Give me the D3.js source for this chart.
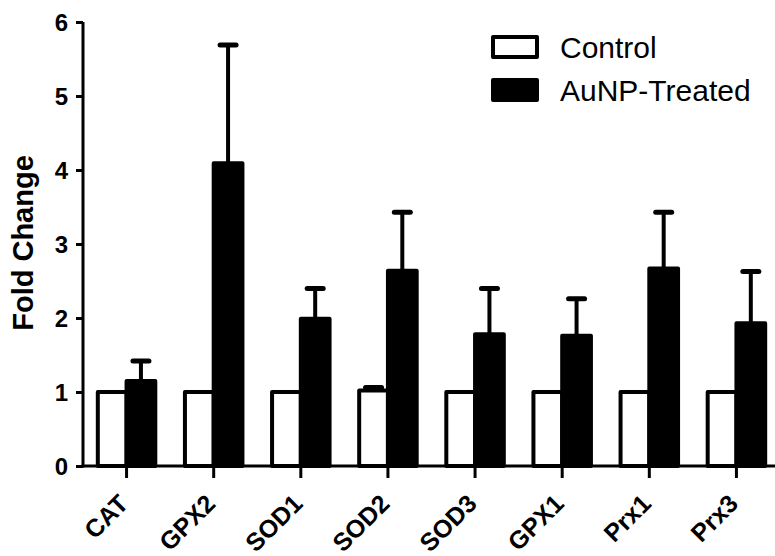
<!DOCTYPE html>
<html>
<head>
<meta charset="utf-8">
<script src="https://cdn.jsdelivr.net/npm/d3@7"></script>
<style>
  body { margin: 0; background: #fff; }
  text { font-family: "Liberation Sans", Arial, sans-serif; }
</style>
</head>
<body>
<svg width="775" height="556"></svg>
<script>
// data
var genes = ["CAT", "GPX2", "SOD1", "SOD2", "SOD3", "GPX1", "Prx1", "Prx3"];
var groups = ["Control", "AuNP-Treated"];
var controlMean = [1.0, 1.0, 1.0, 1.02, 1.0, 1.0, 1.0, 1.0];
var controlErr  = [0, 0, 0, 0.04, 0, 0, 0, 0];
var treatedMean = [1.15, 4.09, 1.99, 2.64, 1.78, 1.76, 2.67, 1.93];
var treatedErr  = [0.27, 1.6, 0.41, 0.79, 0.62, 0.5, 0.76, 0.7];
var yTicks = [0, 1, 2, 3, 4, 5, 6];

var svg = d3.select("svg"),
    width = +svg.attr("width"),
    height = +svg.attr("height");

var plotLeft = 83, plotBottom = 466, plotTop = 22;

var y = d3.scaleLinear().domain([0, 6]).range([plotBottom, plotTop]);

var x0 = d3.scaleBand()
    .domain(genes)
    .range([plotLeft, 780])
    .paddingInner(0.34)
    .paddingOuter(0.17);

var x1 = d3.scaleBand()
    .domain(groups)
    .range([0, x0.bandwidth()])
    .padding(0);

// flatten into rows for drawing
var rows = [];
genes.forEach(function(g, i) {
  rows.push({gene: g, group: groups[0], mean: controlMean[i], err: controlErr[i]});
  rows.push({gene: g, group: groups[1], mean: treatedMean[i], err: treatedErr[i]});
});

var fillFor = { "Control": "#fff", "AuNP-Treated": "#000" };

function cx(d) { return x0(d.gene) + x1(d.group) + x1.bandwidth() / 2; }

// error bars (drawn first so the bar covers the bottom)
var eb = svg.append("g").attr("class", "errs")
  .selectAll("g")
  .data(rows.filter(function(d) { return d.err > 0; }))
  .enter().append("g");

eb.append("line")
    .attr("x1", cx)
    .attr("x2", cx)
    .attr("y1", function(d) { return y(d.mean); })
    .attr("y2", function(d) { return y(d.mean + d.err); })
    .attr("stroke", "#000")
    .attr("stroke-width", 4);

eb.append("line")
    .attr("x1", function(d) { return cx(d) - 8; })
    .attr("x2", function(d) { return cx(d) + 8; })
    .attr("y1", function(d) { return y(d.mean + d.err); })
    .attr("y2", function(d) { return y(d.mean + d.err); })
    .attr("stroke", "#000")
    .attr("stroke-width", 5)
    .attr("stroke-linecap", "round");

// bars
svg.append("g").attr("class", "bars")
  .selectAll("rect")
  .data(rows)
  .enter().append("rect")
    .attr("x", function(d) { return x0(d.gene) + x1(d.group); })
    .attr("y", function(d) { return y(d.mean); })
    .attr("width", x1.bandwidth())
    .attr("height", function(d) { return plotBottom - y(d.mean); })
    .attr("fill", function(d) { return fillFor[d.group]; })
    .attr("stroke", "#000")
    .attr("stroke-width", 4)
    .attr("stroke-linejoin", "round");

// axes
var yAxis = svg.append("g")
    .attr("transform", "translate(" + plotLeft + ",0)")
    .call(d3.axisLeft(y).tickValues(yTicks).tickFormat(d3.format("d")).tickSize(7).tickPadding(8));

var xAxis = svg.append("g")
    .attr("transform", "translate(0," + plotBottom + ")")
    .call(d3.axisBottom(x0).tickSize(12).tickSizeOuter(0).tickFormat(""));

[yAxis, xAxis].forEach(function(ax) {
  ax.select(".domain").attr("stroke", "#000").attr("stroke-width", 3);
  ax.selectAll(".tick line").attr("stroke", "#000").attr("stroke-width", 3);
});
yAxis.select(".domain").attr("d", "M0," + plotTop + "V" + (plotBottom + 1.5));
xAxis.select(".domain").attr("d", "M" + (plotLeft - 1.5) + ",0H775");

yAxis.selectAll(".tick text")
    .attr("fill", "#000")
    .attr("font-family", null)
    .attr("font-size", null)
    .style("font-size", "24px")
    .style("font-weight", "bold")
    .attr("dy", "0.36em");

// rotated category labels
svg.append("g").attr("class", "xlabels")
  .selectAll("text")
  .data(genes)
  .enter().append("text")
    .attr("transform", function(d) {
      return "translate(" + (x0(d) + x0.bandwidth() / 2 - 3) + "," + (plotBottom + 33) + ") rotate(-45)";
    })
    .attr("text-anchor", "end")
    .attr("dy", "0.35em")
    .style("font-size", "25px")
    .style("font-weight", "bold")
    .text(function(d) { return d; });

// y title
svg.append("text")
    .attr("transform", "translate(33,243) rotate(-90)")
    .attr("text-anchor", "middle")
    .style("font-size", "29px")
    .style("font-weight", "bold")
    .text("Fold Change");

// legend
var legend = svg.append("g").attr("class", "legend")
  .selectAll("g")
  .data(groups)
  .enter().append("g")
    .attr("transform", function(d, i) { return "translate(493," + (37 + i * 43) + ")"; });

legend.append("rect")
    .attr("width", 44)
    .attr("height", 20)
    .attr("fill", function(d) { return fillFor[d]; })
    .attr("stroke", "#000")
    .attr("stroke-width", 4)
    .attr("stroke-linejoin", "round");

legend.append("text")
    .attr("x", 67)
    .attr("y", 10)
    .attr("dy", "0.36em")
    .style("font-size", "30px")
    .text(function(d) { return d; });
</script>
</body>
</html>
